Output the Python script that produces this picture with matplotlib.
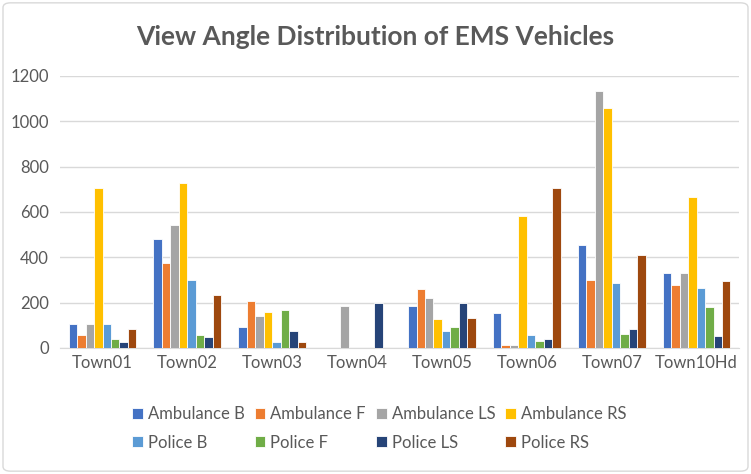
import numpy as np
import matplotlib.pyplot as plt
from matplotlib.patches import FancyBboxPatch

plt.rcParams['font.family'] = ['Lato', 'DejaVu Sans']

towns = ["Town01", "Town02", "Town03", "Town04", "Town05", "Town06", "Town07", "Town10Hd"]

series_names = ["Ambulance B", "Ambulance F", "Ambulance LS", "Ambulance RS",
                "Police B", "Police F", "Police LS", "Police RS"]

ambulance_b = [106, 481, 94, 0, 187, 154, 454, 332]
ambulance_f = [59, 373, 209, 0, 260, 15, 300, 278]
ambulance_ls = [106, 544, 140, 187, 219, 15, 1135, 332]
ambulance_rs = [707, 729, 157, 0, 129, 584, 1057, 667]
police_b = [106, 301, 28, 1, 76, 56, 285, 265]
police_f = [38, 59, 169, 0, 91, 29, 62, 179]
police_ls = [24, 47, 76, 198, 200, 41, 84, 51]
police_rs = [85, 235, 28, 0, 132, 706, 409, 294]

series = [ambulance_b, ambulance_f, ambulance_ls, ambulance_rs,
          police_b, police_f, police_ls, police_rs]

colors = ["#4472C4", "#ED7D31", "#A5A5A5", "#FFC000",
          "#5B9BD5", "#70AD47", "#264478", "#9E480E"]

fig = plt.figure(figsize=(7.51, 4.74), dpi=100)
ax = fig.add_axes([0.08, 0.266, 0.904, 0.574])

x = np.arange(len(towns))
width = 0.1
for i, (name, vals) in enumerate(zip(series_names, series)):
    ax.bar(x + (i - 3.5) * width, vals, width, color=colors[i], label=name,
           edgecolor="white", linewidth=0.6, zorder=3)

ax.set_ylim(0, 1200)
ax.set_xlim(-0.5, len(towns) - 0.5)
ax.set_yticks(range(0, 1201, 200))
ax.set_xticks(x)
ax.set_xticklabels(towns)
ax.grid(axis="y", color="#D9D9D9", linewidth=1, zorder=0)
for s in ["top", "right", "left"]:
    ax.spines[s].set_visible(False)
ax.spines["bottom"].set_color("#D9D9D9")
ax.tick_params(axis="both", length=0, colors="#595959", labelsize=12)
ax.tick_params(axis="x", pad=5)
ax.tick_params(axis="y", pad=8)

fig.suptitle("View Angle Distribution of EMS Vehicles", x=0.5, y=0.948,
             fontsize=19, fontweight="bold", color="#595959")

# legend fills column-wise, so reorder to read row by row
handles, labels = ax.get_legend_handles_labels()
order = [0, 4, 1, 5, 2, 6, 3, 7]
fig.legend([handles[k] for k in order], [labels[k] for k in order], ncol=4,
           loc="upper center", bbox_to_anchor=(0.505, 0.175),
           frameon=False, fontsize=12, handlelength=0.65, handleheight=0.65,
           handletextpad=0.3, columnspacing=0.6, labelspacing=0.75,
           labelcolor="#595959")

border = FancyBboxPatch((0.004, 0.006), 0.992, 0.988, boxstyle="round,pad=0,rounding_size=0.01",
                        transform=fig.transFigure, fill=False, edgecolor="#D9D9D9", linewidth=1)
fig.patches.append(border)

fig.savefig("out.png", dpi=100)
